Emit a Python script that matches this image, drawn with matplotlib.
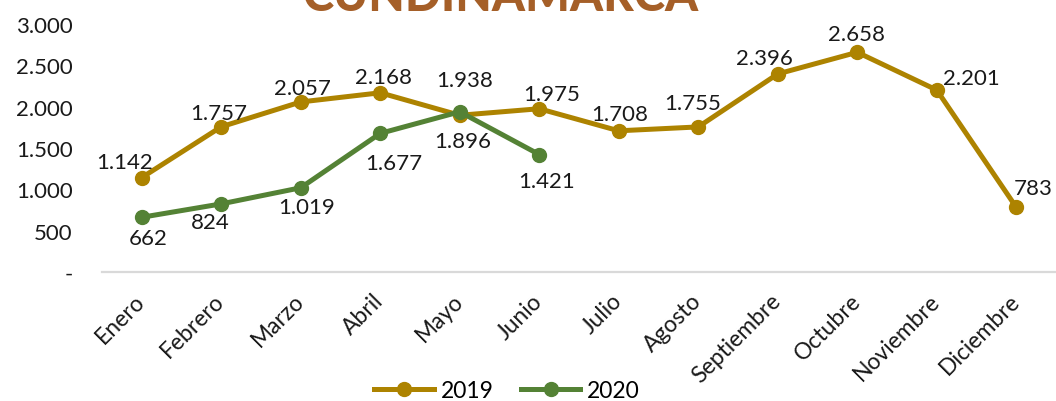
import matplotlib
matplotlib.use("Agg")
import matplotlib.pyplot as plt
from matplotlib.ticker import FixedLocator

plt.rcParams['font.family'] = ['Lato', 'DejaVu Sans']

months = ["Enero", "Febrero", "Marzo", "Abril", "Mayo", "Junio", "Julio",
          "Agosto", "Septiembre", "Octubre", "Noviembre", "Diciembre"]
v2019 = [1142, 1757, 2057, 2168, 1896, 1975, 1708, 1755, 2396, 2658, 2201, 783]
v2020 = [662, 824, 1019, 1677, 1938, 1421]
yticks = [0, 500, 1000, 1500, 2000, 2500, 3000]
ytick_labels = ["-", "500", "1.000", "1.500", "2.000", "2.500", "3.000"]
title = "CUNDINAMARCA"

# label offsets in pixels (dx, dy) relative to the point (screen coords, y down)
off2019 = [(-17, -16), (-3, -14), (2, -14), (3, -16), (3, 26), (12, -15),
           (1, -17), (-6, -24), (-13, -16), (-1, -18), (35, -12), (17, -19)]
off2020 = [(6, 21), (-11, 18), (6, 19), (14, 30), (5, -32), (7, 26)]

c2019 = "#AD8300"
c2020 = "#548235"

fmt = lambda v: f"{v:,}".replace(",", ".")

fig = plt.figure(figsize=(10.56, 4.02), dpi=100)
ax = fig.add_axes([102/1056, 1-273/402, 1-102/1056, (273-25)/402])

x = list(range(len(months)))
ax.plot(x, v2019, color=c2019, lw=3.6, marker="o", ms=10, label="2019",
        solid_joinstyle="round", zorder=3)
ax.plot(x[:len(v2020)], v2020, color=c2020, lw=3.6, marker="o", ms=10,
        label="2020", solid_joinstyle="round", zorder=4)

for xi, v, (dx, dy) in zip(x, v2019, off2019):
    ax.annotate(fmt(v), (xi, v), xytext=(dx, -dy), textcoords="offset pixels",
                ha="center", va="center", fontsize=16, color="#1a1a1a", zorder=5)
for xi, v, (dx, dy) in zip(x, v2020, off2020):
    ax.annotate(fmt(v), (xi, v), xytext=(dx, -dy), textcoords="offset pixels",
                ha="center", va="center", fontsize=16, color="#1a1a1a", zorder=5)

ax.set_xlim(-0.5, len(months) - 0.5)
ax.set_ylim(0, 3000)
ax.yaxis.set_major_locator(FixedLocator(yticks))
ax.set_yticklabels(ytick_labels, fontsize=16, color="#1a1a1a")
ax.set_xticks(x)
ax.set_xticklabels(months, fontsize=16.5, color="#1a1a1a", rotation=45,
                   ha="right", va="center", rotation_mode="anchor")
ax.tick_params(axis="y", length=0, pad=21)
ax.tick_params(axis="x", length=0, pad=18)
for s in ["top", "right", "left"]:
    ax.spines[s].set_visible(False)
ax.spines["bottom"].set_color("#D9D9D9")
ax.spines["bottom"].set_linewidth(1.6)
ax.patch.set_alpha(0)

fig.text(500/1056, 1-11/402, title, ha="center", va="baseline", fontsize=34,
         fontweight="black", color="#A55F28")

fig.legend(loc="center", bbox_to_anchor=(507/1056, 1-392/402), ncol=2,
           frameon=False, fontsize=16.5, handlelength=2.6, columnspacing=1.2,
           handletextpad=0.3)

fig.savefig("out.png", dpi=100)
